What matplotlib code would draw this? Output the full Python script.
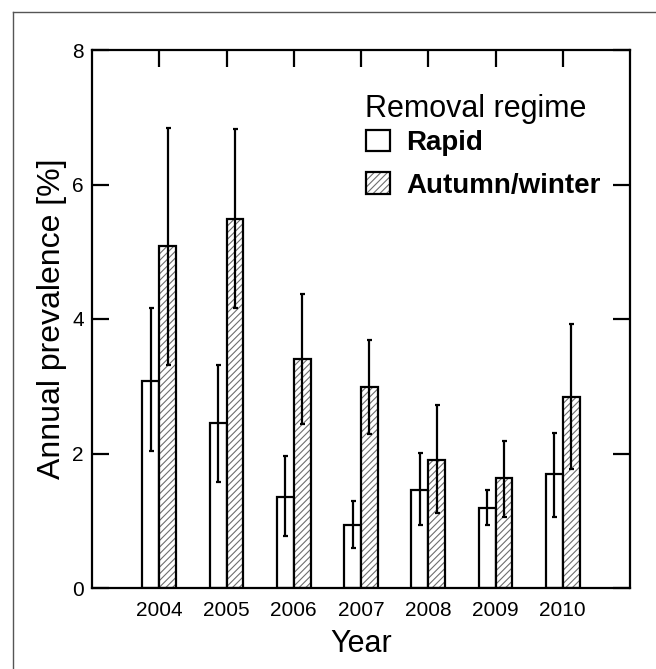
import matplotlib
matplotlib.use("Agg")
import matplotlib.pyplot as plt
from matplotlib.lines import Line2D
import numpy as np

plt.rcParams['font.family'] = ['Liberation Sans', 'DejaVu Sans']
plt.rcParams['hatch.linewidth'] = 0.8

# ---- data ----
years = [2004, 2005, 2006, 2007, 2008, 2009, 2010]
rapid = [3.08, 2.45, 1.35, 0.93, 1.46, 1.19, 1.69]
rapid_lo = [2.03, 1.58, 0.78, 0.59, 0.93, 0.93, 1.06]
rapid_hi = [4.16, 3.31, 1.96, 1.30, 2.01, 1.46, 2.31]
autumn = [5.09, 5.48, 3.41, 2.99, 1.91, 1.63, 2.84]
autumn_lo = [3.32, 4.17, 2.44, 2.29, 1.11, 1.06, 1.77]
autumn_hi = [6.84, 6.82, 4.37, 3.69, 2.72, 2.18, 3.93]
series_labels = ["Rapid", "Autumn/winter"]
legend_title = "Removal regime"
y_ticks = [0, 2, 4, 6, 8]

fig = plt.figure(figsize=(6.56, 6.69), dpi=100)
ax = fig.add_axes([92/656, 1-588/669, 538/656, 538/669])

x = np.array(years, dtype=float)
w = 0.25
lw = 1.6

# rapid bars
rb = ax.bar(x - w/2, rapid, width=w, facecolor='white', edgecolor='black',
            linewidth=lw, zorder=2)
# autumn bars: hatch layer + outline layer
ah = ax.bar(x + w/2, autumn, width=w, facecolor='white', edgecolor='#6e6e6e',
            linewidth=0, hatch='/////', zorder=2)
ao = ax.bar(x + w/2, autumn, width=w, facecolor='none', edgecolor='black',
            linewidth=lw, zorder=3)

r = np.array(rapid); a = np.array(autumn)
ax.errorbar(x - w/2, r, yerr=[r - np.array(rapid_lo), np.array(rapid_hi) - r],
            fmt='none', ecolor='black', elinewidth=1.6, capsize=1.8, capthick=1.6, zorder=4)
ax.errorbar(x + w/2, a, yerr=[a - np.array(autumn_lo), np.array(autumn_hi) - a],
            fmt='none', ecolor='black', elinewidth=1.6, capsize=1.8, capthick=1.6, zorder=4)

ax.set_xlim(2003, 2011)
ax.set_ylim(0, 8)
ax.set_xticks(years)
ax.set_xticklabels([str(y) for y in years])
ax.set_yticks(y_ticks)
ax.tick_params(direction='in', length=12, width=1.6, labelsize=15, pad=6,
               top=True, right=True)
ax.tick_params(axis='x', pad=9.5)
for s in ax.spines.values():
    s.set_linewidth(1.6)

ax.set_xlabel("Year", fontsize=22)
ax.set_ylabel("Annual prevalence [%]", fontsize=23)
ax.xaxis.set_label_coords(0.5, -0.077)
ax.yaxis.set_label_coords(-0.047, 0.5)

# legend
fig.text(365/656, 1-117/669, legend_title, fontsize=22, ha='left', va='baseline')
leg = ax.legend([rb, (ah, ao)], series_labels, loc='upper left',
                bbox_to_anchor=(366/656, 1-130/669), bbox_transform=fig.transFigure,
                frameon=False, borderpad=0, borderaxespad=0,
                handlelength=0.86, handleheight=0.8, handletextpad=0.6,
                labelspacing=0.58, prop={'size': 20, 'weight': 'bold'})

# outer frame
fig.add_artist(Line2D([13/656, 13/656], [0, 1-12/669], color='#555555', lw=1))
fig.add_artist(Line2D([13/656, 1], [1-12/669, 1-12/669], color='#555555', lw=1))

fig.savefig("out.png", dpi=100)
